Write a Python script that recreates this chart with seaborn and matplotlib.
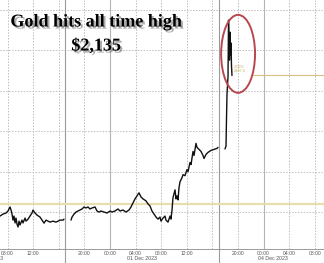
import numpy as np
import pandas as pd
import matplotlib
matplotlib.use("Agg")
import matplotlib.pyplot as plt
import matplotlib.patheffects as pe
from matplotlib.patches import Ellipse
import seaborn as sns

# ---- data (trading hours since 30 Nov 00:00, weekend collapsed) ----
s1_hour = [6.81, 7.28, 7.75, 8.06, 8.38, 8.53, 8.69, 8.84, 9.0, 9.16, 9.31, 9.47, 9.63, 9.78, 9.94,
           10.25, 10.41, 10.72, 10.88, 11.19, 11.5, 11.81, 11.97, 12.28, 12.59, 13.06, 13.38, 13.69,
           14.0, 14.31, 14.63, 15.09, 15.56, 15.88, 16.19, 16.66, 16.81]
s1_price = [2038.0, 2039.0, 2039.5, 2040.5, 2042.5, 2041.0, 2039.0, 2036.0, 2038.0, 2034.6, 2037.0,
            2034.0, 2032.6, 2035.5, 2033.6, 2036.0, 2034.6, 2037.0, 2035.5, 2036.5, 2038.0, 2039.5,
            2041.0, 2039.5, 2038.5, 2037.5, 2036.0, 2034.5, 2036.0, 2035.5, 2035.0, 2035.5, 2035.0,
            2035.5, 2036.0, 2036.0, 2036.5]

s2_hour = [17.91, 18.06, 18.38, 18.69, 19.0, 19.31, 19.63, 19.94, 20.25, 20.56, 20.88, 21.19, 21.66,
           21.97, 22.28, 22.59, 23.06, 23.53, 24.0, 24.31, 24.78, 25.25, 25.56, 26.03, 26.5, 26.97,
           27.28, 27.59, 27.91, 28.22, 28.53, 28.84, 29.16, 29.63, 29.94, 30.25, 30.56, 30.88, 31.19,
           31.5, 31.81, 31.97, 32.28, 32.59, 32.75, 33.06, 33.38, 33.53, 33.69, 33.84, 34.0, 34.16,
           34.31, 34.47, 34.63, 34.78, 34.94, 35.25, 35.41, 35.72, 36.03, 36.19, 36.5, 36.66, 36.97,
           37.13, 37.44, 37.59, 37.91, 38.22, 38.53, 38.69, 39.0, 39.31, 39.78, 40.25, 40.72, 40.88]
s2_price = [2036.0, 2037.5, 2039.0, 2040.0, 2040.5, 2041.0, 2041.5, 2042.5, 2042.0, 2042.5, 2041.5,
            2042.0, 2042.5, 2040.5, 2040.0, 2040.5, 2040.0, 2039.5, 2040.5, 2040.0, 2040.5, 2041.5,
            2040.5, 2041.0, 2040.0, 2041.0, 2042.5, 2044.5, 2046.5, 2048.0, 2049.5, 2047.5, 2046.5,
            2045.5, 2044.0, 2043.0, 2040.5, 2039.0, 2037.5, 2036.5, 2037.5, 2035.5, 2037.0, 2038.0,
            2036.0, 2035.0, 2038.0, 2036.5, 2041.0, 2047.0, 2049.0, 2051.0, 2046.5, 2048.0, 2046.0,
            2052.0, 2055.0, 2057.0, 2058.5, 2058.0, 2061.0, 2060.0, 2064.5, 2063.5, 2070.0, 2068.0,
            2074.0, 2072.0, 2071.0, 2070.0, 2068.0, 2066.5, 2068.5, 2069.5, 2070.5, 2071.0, 2071.5,
            2072.0]

s3_hour = [41.97, 42.13, 42.2, 42.28, 42.44, 42.52, 42.59, 42.67, 42.75, 42.83, 42.91, 42.98, 43.06]
s3_price = [2071.2, 2072.7, 2085.5, 2098.0, 2107.0, 2135.0, 2127.6, 2115.2, 2129.0, 2117.7, 2123.7,
            2112.8, 2107.6]

prior_level = 2044.0
tick_hours = [8, 12, 16, 20, 24, 28, 32, 36, 40, 44, 48, 52, 56]
tick_labels = ["08:00", "12:00", "", "20:00", "00:00", "04:00", "08:00", "12:00", "", "20:00",
               "00:00", "04:00", "08:00"]
midnight_hours = [24, 48]
session_breaks = [17, 41]
date_labels = ["30 Nov 2023", "01 Dec 2023", "04 Dec 2023"]
date_centers = [5.0, 29.0, 49.5]
title_line1 = "Gold hits all time high"
title_line2 = "$2,135"
pct_text = "2.09%"

df = pd.concat([
    pd.DataFrame({"hour": s1_hour, "price": s1_price, "session": 1}),
    pd.DataFrame({"hour": s2_hour, "price": s2_price, "session": 2}),
    pd.DataFrame({"hour": s3_hour, "price": s3_price, "session": 3}),
])

sns.set_style("white")
W, H = 324, 263
fig = plt.figure(figsize=(W / 100, H / 100), dpi=100)
ax = fig.add_axes([0, 14 / H, 1, 249 / H])

x0, x1 = 6.81, 57.44
ax.set_xlim(x0, x1)
ax.set_ylim(2021.7, 2144.95)

# grid
for yv in [2040, 2060, 2080, 2100, 2120, 2140]:
    ax.axhline(yv, color="#bdbdbd", lw=0.7, ls=(0, (1.5, 1.5)), zorder=0)
for xv in tick_hours:
    if xv not in midnight_hours:
        ax.axvline(xv, color="#bdbdbd", lw=0.7, ls=(0, (1.5, 1.5)), zorder=0)
for xv in midnight_hours:
    ax.axvline(xv, color="#b4b4b4", lw=0.8, zorder=0)
for xv in session_breaks:
    ax.axvline(xv, ymin=-14 / 249, ymax=1, color="#9a9a9a", lw=0.8, zorder=0, clip_on=False)

ax.axhline(prior_level, color="#e8dfae", lw=1.6, zorder=1)

sns.lineplot(data=df, x="hour", y="price", units="session", estimator=None,
             color="#111111", lw=1.0, ax=ax, legend=False, zorder=3)

# last price line + label
last_t, last_p = s3_hour[-1], s3_price[-1]
ax.plot([last_t + 3.2, x1], [last_p, last_p], color="#d6c27c", lw=0.8, zorder=2)
ax.text(last_t + 0.25, last_p + 1.2, f"{pct_text}\n{last_p:.1f}", fontsize=2.8,
        color="#c9b05e", va="bottom", ha="left", family="Liberation Sans", linespacing=1.1)

# red ellipse around the spike
s3p = np.array(s3_price)
cy = (s3p.max() + last_p) / 2 - 3
ell = Ellipse((np.mean(s3_hour) + 1.45, cy), width=5.3, height=38.6, fill=False,
              edgecolor="#b8484e", lw=1.4, zorder=4)
ax.add_patch(ell)

# axes styling
for sp in ["top", "left", "right"]:
    ax.spines[sp].set_visible(False)
ax.spines["bottom"].set_color("#9a9a9a")
ax.spines["bottom"].set_linewidth(0.7)
ax.set_yticks([])
ax.set_xticks(tick_hours)
ax.set_xticklabels(tick_labels, fontsize=3.6, color="#555555", family="Liberation Sans")
ax.set_xticks(np.arange(7, 58, 1), minor=True)
ax.tick_params(axis="x", which="major", length=2, width=0.5, color="#777777", pad=0.6,
               direction="inout")
ax.tick_params(axis="x", which="minor", length=1.2, width=0.4, color="#999999", direction="in")
ax.set_xlabel("")
ax.set_ylabel("")

# date labels
for lab, xc in zip(date_labels, date_centers):
    xf = (xc - x0) / (x1 - x0)
    fig.text(xf, 2.5 / H, lab, fontsize=3.8, color="#555555", ha="center", va="bottom",
             family="Liberation Sans")

# title
shadow = [pe.withSimplePatchShadow(offset=(1.5, -1.5), shadow_rgbFace="#777777", alpha=0.6)]
fig.text(96 / W, 1 - 22 / H, title_line1, fontsize=13, fontweight="bold",
         family="Liberation Serif", ha="center", va="center", color="black", path_effects=shadow)
fig.text(96 / W, 1 - 46 / H, title_line2, fontsize=13, fontweight="bold",
         family="Liberation Serif", ha="center", va="center", color="black", path_effects=shadow)

fig.savefig("out.png", dpi=100)
